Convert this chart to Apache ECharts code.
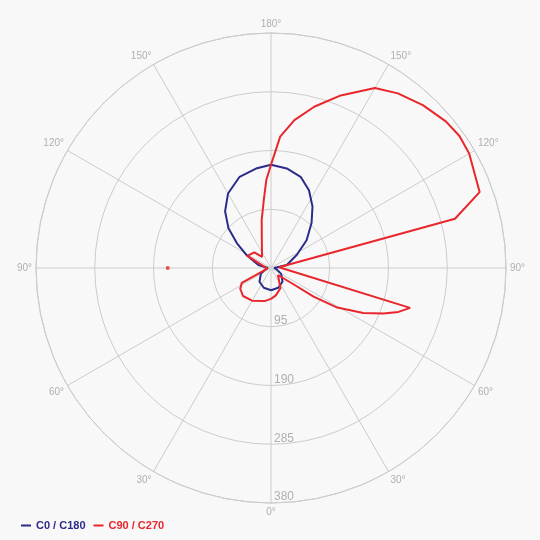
<!DOCTYPE html>
<html>
<head>
<meta charset="utf-8">
<script src="https://cdn.jsdelivr.net/npm/echarts@6/dist/echarts.min.js"></script>
<style>
html,body{margin:0;padding:0;background:#f8f8f8;}
#chart{width:540px;height:540px;}
</style>
</head>
<body>
<div id="chart"></div>
<script>
// Angles: 0 = bottom (nadir), increasing clockwise through left (90), top (180), right (270)
const seriesNames = ['C0 / C180', 'C90 / C270'];
const radiusMax = 380;
const radiusStep = 95;
const angleStep = 30;

const c0Angles = [0, 20, 40, 60, 75, 90, 103, 118, 126, 133, 141, 150, 161, 172, 180, 189, 198, 206, 214, 222, 232, 243, 259, 270, 285, 300, 320, 340, 360];
const c0Values = [36, 34, 29, 19, 10, 5, 21, 45, 68, 94, 118, 139, 156, 163, 167, 163, 155, 140, 120, 98, 73, 47, 26, 5, 10, 19, 29, 34, 36];

const c90Angles = [0, 10, 30, 45, 56, 63, 80, 100, 117, 133, 141, 162, 169, 174, 177, 180, 184, 189, 195, 202, 210, 216, 223, 230, 235, 240, 250, 255, 265, 286, 289, 292, 296, 301, 304, 306, 315, 335, 350, 360];
const c90Values = [50, 54, 61, 64, 60, 53, 6, 6, 43, 37, 23, 48, 79, 111, 143, 167, 213, 242, 270, 301, 336, 349, 360, 369, 372, 370, 359, 308, 13, 234, 218, 196, 166, 123, 83, 44, 16, 36, 45, 50];

const dotAngles = [90];
const dotValues = [167];

const colors = ['#2b2b8c', '#e8262c'];

function pairs(angles, values) {
  return angles.map((a, i) => [values[i], a]);
}

const chart = echarts.init(document.getElementById('chart'), null, {renderer: 'canvas'});
chart.setOption({
  animation: false,
  backgroundColor: '#f8f8f8',
  polar: { center: [271, 268], radius: 235 },
  angleAxis: {
    type: 'value', min: 0, max: 360, interval: angleStep,
    startAngle: 270, clockwise: true,
    axisLine: { show: true, lineStyle: { color: '#cccccc', width: 1 } },
    axisTick: { show: false },
    splitLine: { show: true, lineStyle: { color: '#cccccc', width: 1 } },
    axisLabel: {
      color: '#b0b0b0', fontSize: 10, fontFamily: 'Liberation Sans, Arial, sans-serif', margin: 4,
      formatter: v => v === 360 ? '' : (v <= 180 ? v : 360 - v) + '°'
    }
  },
  radiusAxis: {
    type: 'value', min: 0, max: radiusMax, interval: radiusStep,
    axisLine: { show: false }, axisTick: { show: false },
    splitLine: { show: true, lineStyle: { color: '#cccccc', width: 1 } },
    axisLabel: {
      color: '#b0b0b0', fontSize: 12, fontFamily: 'Liberation Sans, Arial, sans-serif',
      margin: 3, verticalAlign: 'bottom',
      formatter: v => v === 0 ? '' : String(v)
    }
  },
  legend: {
    left: 16, top: 515, itemWidth: 10, itemHeight: 2, itemGap: 8, icon: 'rect',
    data: [
      { name: seriesNames[0], textStyle: { color: colors[0] } },
      { name: seriesNames[1], textStyle: { color: colors[1] } }
    ],
    textStyle: { fontSize: 11, fontWeight: 'bold', fontFamily: 'Liberation Sans, Arial, sans-serif' }
  },
  series: [
    { name: seriesNames[0], type: 'line', coordinateSystem: 'polar', symbol: 'none',
      data: pairs(c0Angles, c0Values), lineStyle: { color: colors[0], width: 2 }, itemStyle: { color: colors[0] } },
    { name: seriesNames[1], type: 'line', coordinateSystem: 'polar', symbol: 'none',
      data: pairs(c90Angles, c90Values), lineStyle: { color: colors[1], width: 2 }, itemStyle: { color: colors[1] } },
    { name: 'dot', type: 'scatter', coordinateSystem: 'polar', symbolSize: 4,
      data: pairs(dotAngles, dotValues), itemStyle: { color: colors[1] } }
  ]
});
</script>
</body>
</html>
